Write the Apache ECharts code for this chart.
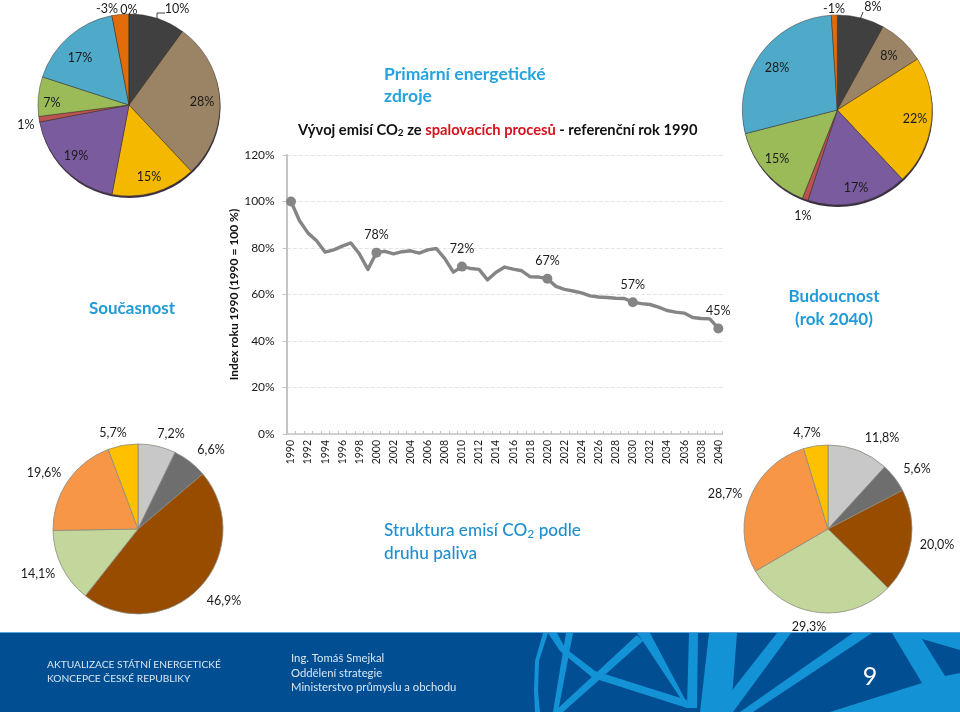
<!DOCTYPE html>
<html>
<head>
<meta charset="utf-8">
<title>Primární energetické zdroje</title>
<script src="https://cdn.jsdelivr.net/npm/echarts@6/dist/echarts.min.js"></script>
<style>
  html, body { margin: 0; padding: 0; background: #fff; }
  #main { width: 960px; height: 712px; }
</style>
</head>
<body>
<div id="main"></div>
<script>
var years = ["1990","1991","1992","1993","1994","1995","1996","1997","1998","1999",
  "2000","2001","2002","2003","2004","2005","2006","2007","2008","2009",
  "2010","2011","2012","2013","2014","2015","2016","2017","2018","2019",
  "2020","2021","2022","2023","2024","2025","2026","2027","2028","2029",
  "2030","2031","2032","2033","2034","2035","2036","2037","2038","2039","2040"];
var emisIndex = [100,91.7,86.4,83.1,78.2,79.2,80.8,82.2,77.5,70.8,
  78,78.6,77.5,78.4,78.8,77.8,79.2,79.8,75.4,69.6,
  72,71.2,70.8,66.3,69.6,71.8,70.9,70.2,67.6,67.5,
  66.8,63.5,62.2,61.5,60.7,59.4,58.9,58.7,58.4,58.3,
  56.7,56.1,55.7,54.6,53.1,52.4,52,50.1,49.7,49.5,45.4];
var markedYears = ["1990","2000","2010","2020","2030","2040"];
var markedLabels = ["","78%","72%","67%","57%","45%"];

var nowValues = [10,28,15,19,1,7,17,3,0];
var nowLabels = ["10%","28%","15%","19%","1%","7%","17%","-3%","0%"];
var futureValues = [8,8,22,17,1,15,28,1];
var futureLabels = ["8%","8%","22%","17%","1%","15%","28%","-1%"];
var fuelNowValues = [7.2,6.6,46.9,14.1,19.6,5.7];
var fuelNowLabels = ["7,2%","6,6%","46,9%","14,1%","19,6%","5,7%"];
var fuelFutureValues = [11.8,5.6,20.0,29.3,28.7,4.7];
var fuelFutureLabels = ["11,8%","5,6%","20,0%","29,3%","28,7%","4,7%"];

var FONT = "Lato";
var energyColors = ["#404040","#9b8466","#f5b800","#7a5b9e","#b9534f","#9bbb59","#4fa9c8","#e36c0a","#e36c0a"];
var fuelColors = ["#c8c8c8","#6e6e6e","#974c00","#c3d69b","#f79646","#ffc000"];

// rucne umistene popisky (stred textu), stejne jako v puvodnim grafu
var nowLabelPos = [[177,9],[202,102],[149,177],[76,156],[26,125],[52,103],[80,58],[107,9],[129,10]];
var futureLabelPos = [[873,7],[889,56],[915,119],[856,188],[803,216],[777,159],[777,68],[834,9]];
var fuelNowLabelPos = [[171,434],[211,450],[224,601],[38,574],[44,473],[113,433]];
var fuelFutureLabelPos = [[882,438],[917,469],[937,545],[809,627],[725,494],[807,433]];

function makePie(values, labels, colors, center, radius, labelPos, borderColor, leader) {
  return {
    type: "pie",
    center: center,
    radius: radius,
    startAngle: 90,
    clockwise: true,
    avoidLabelOverlap: false,
    silent: true,
    animation: false,
    itemStyle: { borderColor: borderColor, borderWidth: 0.8 },
    label: {
      show: true,
      position: "outside",
      fontFamily: FONT,
      fontSize: 12.5,
      color: "#1a1a1a",
      formatter: function (p) { return labels[p.dataIndex]; }
    },
    labelLine: { show: false, lineStyle: { color: "#404040", width: 1 } },
    labelLayout: function (p) {
      var res = { x: labelPos[p.dataIndex][0], y: labelPos[p.dataIndex][1], align: "center", verticalAlign: "middle" };
      if (leader && p.dataIndex === 0) res.labelLinePoints = leader;
      return res;
    },
    data: values.map(function (v, i) {
      var item = { value: v, itemStyle: { color: colors[i] } };
      if (leader && i === 0) item.labelLine = { show: true };
      return item;
    })
  };
}

var lineData = emisIndex.map(function (v, i) {
  var k = markedYears.indexOf(years[i]);
  if (k < 0) return { value: v, symbolSize: 0 };
  return {
    value: v,
    symbolSize: 10,
    label: { show: markedLabels[k] !== "", formatter: markedLabels[k] }
  };
});

var footerLight = "#1492d6";
var footerShapes = [
  [[543,633],[548,633],[539,661],[538,691],[540,712],[535,712],[534,691],[535,661]],
  [[548,633],[557,633],[565,648],[595,671],[687,700],[687,708],[593,678],[560,651]],
  [[566,633],[573,633],[558,712],[553,712]],
  [[637,635],[643,641],[563,712],[554,712]],
  [[637,633],[650,633],[687,703],[687,708],[642,640]],
  [[689,633],[698,633],[697,708],[687,708]],
  [[709,633],[737,633],[733,685],[730,712],[700,712]],
  [[777,633],[791,633],[733,712],[715,712]],
  [[853,633],[872,633],[753,712],[740,712]],
  [[892,633],[960,633],[960,650],[922,639],[945,676],[960,673],[960,712],[830,712],[922,683]]
];

function blueText(text, x, y, size, weight, align, color) {
  return {
    type: "text", x: x, y: y, z: 5, silent: true,
    style: { text: text, fontFamily: FONT, fontSize: size, fontWeight: weight, fill: color || "#1f9cd8",
      align: align || "left", verticalAlign: "middle" }
  };
}
function footerText(text, x, y, size) {
  return {
    type: "text", x: x, y: y, z: 5, silent: true,
    style: { text: text, fontFamily: FONT, fontSize: size, fill: "#d9e6f3", verticalAlign: "middle" }
  };
}

var graphics = [
  // tmavy okraj pod hornimi kolacovymi grafy
  { type: "circle", z: 0, silent: true, shape: { cx: 129.5, cy: 107, r: 91 }, style: { fill: "#3a2f45" } },
  { type: "circle", z: 0, silent: true, shape: { cx: 837.8, cy: 112, r: 95 }, style: { fill: "#3a2f45" } },
  { type: "rect", z: 1, silent: true, shape: { x: 0, y: 632, width: 960, height: 80 }, style: { fill: "#024e93" } },
  { type: "rect", z: 1, silent: true, shape: { x: 0, y: 632, width: 960, height: 1 }, style: { fill: "#5aa6dc" } },
  blueText("Primární energetické", 384, 74, 17.5, "bold", "left", "#25a3de"),
  blueText("zdroje", 384, 96, 17.5, "bold", "left", "#25a3de"),
  blueText("Současnost", 132, 309, 17, "bold", "center"),
  blueText("Budoucnost", 834, 297, 17, "bold", "center"),
  blueText("(rok 2040)", 834, 320, 17, "bold", "center"),
  {
    type: "text", x: 384, y: 530, z: 5, silent: true,
    style: {
      text: "{a|Struktura emisí CO}{s|2}{a| podle}",
      verticalAlign: "middle",
      rich: {
        a: { fontFamily: FONT, fontSize: 17.2, fill: "#1f8fd0", fontWeight: 500 },
        s: { fontFamily: FONT, fontSize: 12, fill: "#1f8fd0", fontWeight: 500, verticalAlign: "bottom", padding: [8, 0, 0, 0] }
      }
    }
  },
  {
    type: "text", x: 384, y: 553, z: 5, silent: true,
    style: { text: "druhu paliva", fontFamily: FONT, fontSize: 17.2, fontWeight: 500, fill: "#1f8fd0", verticalAlign: "middle" }
  },
  {
    type: "text", x: 298, y: 130, z: 5, silent: true,
    style: {
      text: "{k|Vývoj emisí CO}{s|2}{k| ze }{r|spalovacích procesů}{k| - referenční rok 1990}",
      verticalAlign: "middle",
      rich: {
        k: { fontFamily: FONT, fontSize: 14.7, fontWeight: "bold", fill: "#111" },
        r: { fontFamily: FONT, fontSize: 14.7, fontWeight: "bold", fill: "#d4121c" },
        s: { fontFamily: FONT, fontSize: 10, fontWeight: "bold", fill: "#111", verticalAlign: "bottom", padding: [6, 0, 0, 0] }
      }
    }
  },
  footerText("AKTUALIZACE STÁTNÍ ENERGETICKÉ", 47, 665, 10.2),
  footerText("KONCEPCE ČESKÉ REPUBLIKY", 47, 679, 10.2),
  footerText("Ing. Tomáš Smejkal", 291, 658, 11.3),
  footerText("Oddělení strategie", 291, 673, 11.3),
  footerText("Ministerstvo průmyslu a obchodu", 291, 687, 11.3),
  {
    type: "text", x: 870, y: 677, z: 5, silent: true,
    style: { text: "9", fontFamily: FONT, fontSize: 25, fill: "#fff", align: "center", verticalAlign: "middle" }
  }
];
footerShapes.forEach(function (pts) {
  graphics.push({ type: "polygon", z: 2, silent: true, shape: { points: pts }, style: { fill: footerLight } });
});

var myChart = echarts.init(document.getElementById("main"));

var option = {
  animation: false,
  backgroundColor: "#fff",
  textStyle: { fontFamily: FONT },
  graphic: { elements: graphics },
  grid: { left: 286.7, right: 237.4, top: 155, bottom: 278 },
  xAxis: {
    type: "category",
    data: years,
    boundaryGap: true,
    axisLine: { lineStyle: { color: "#c4c4c4", width: 1.5 } },
    axisTick: { show: true, inside: true, length: 3, interval: 0, lineStyle: { color: "#c4c4c4" } },
    axisLabel: { interval: 1, rotate: 90, margin: 6, fontFamily: FONT, fontSize: 10.5, color: "#1a1a1a" },
    splitLine: { show: false }
  },
  yAxis: {
    type: "value",
    min: 0,
    max: 120,
    interval: 20,
    name: "Index roku 1990 (1990 = 100 %)",
    nameLocation: "middle",
    nameRotate: 90,
    nameGap: 47,
    nameTextStyle: { fontFamily: FONT, fontWeight: "bold", fontSize: 12, color: "#111" },
    axisLine: { show: true, lineStyle: { color: "#c4c4c4", width: 2 } },
    axisTick: { show: true, length: 4, lineStyle: { color: "#c4c4c4" } },
    axisLabel: { margin: 12, fontFamily: FONT, fontSize: 12, color: "#1a1a1a",
      formatter: function (v) { return v + "%"; } },
    splitLine: { show: true, lineStyle: { color: "#e4e4e4", type: "dashed", width: 1 } }
  },
  series: [
    {
      type: "line",
      data: lineData,
      showAllSymbol: true,
      symbol: "circle",
      smooth: false,
      silent: true,
      z: 3,
      lineStyle: { color: "#858585", width: 3.4, cap: "round", join: "round" },
      itemStyle: { color: "#858585" },
      label: { show: false, position: "top", distance: 6, fontFamily: FONT, fontSize: 12.5, color: "#1a1a1a" }
    },
    makePie(nowValues, nowLabels, energyColors, [129, 105], 91, nowLabelPos, "rgba(60,50,40,0.6)",
      [[157, 22], [157, 13], [165, 13]]),
    makePie(futureValues, futureLabels, energyColors, [837.3, 110], 95, futureLabelPos, "rgba(60,50,40,0.6)",
      [[859, 22], [861, 17], [863, 12]]),
    makePie(fuelNowValues, fuelNowLabels, fuelColors, [138, 529], 85, fuelNowLabelPos, "#8c8c80"),
    makePie(fuelFutureValues, fuelFutureLabels, fuelColors, [828, 529], 84, fuelFutureLabelPos, "#8c8c80")
  ]
};

myChart.setOption(option);
</script>
</body>
</html>
